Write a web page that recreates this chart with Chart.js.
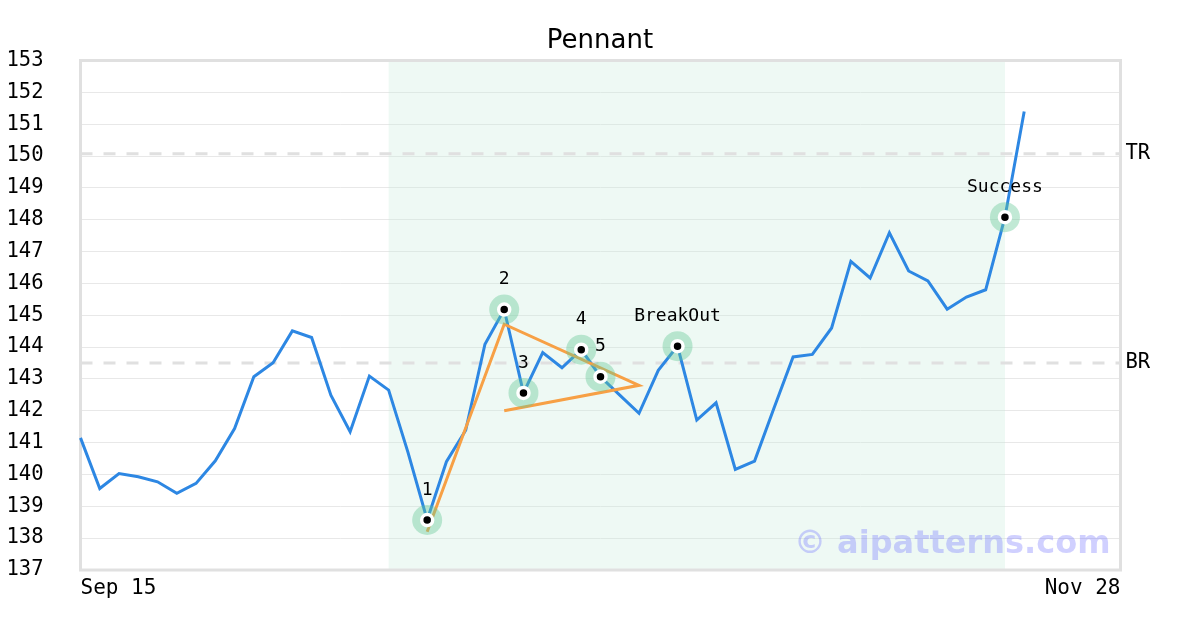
<!DOCTYPE html>
<html>
<head>
<meta charset="utf-8">
<title>Pennant</title>
<script src="https://cdn.jsdelivr.net/npm/chart.js@4.4.1/dist/chart.umd.min.js"></script>
<style>
  html, body { margin: 0; padding: 0; background: #fff; }
  #wrap { width: 1200px; height: 630px; }
</style>
</head>
<body>
<div id="wrap"><canvas id="chart" width="1200" height="630"></canvas></div>
<script>
// trading days on the x axis (only first and last are labelled)
const dates = [
  'Sep 15', 'Sep 16', 'Sep 17', 'Sep 18', 'Sep 19', 'Sep 22', 'Sep 23', 'Sep 24', 'Sep 25', 'Sep 26', 'Sep 29', 'Sep 30',
  'Oct 1', 'Oct 2', 'Oct 3', 'Oct 6', 'Oct 7', 'Oct 8', 'Oct 9', 'Oct 10', 'Oct 13', 'Oct 14', 'Oct 15', 'Oct 16',
  'Oct 17', 'Oct 20', 'Oct 21', 'Oct 22', 'Oct 23', 'Oct 24', 'Oct 27', 'Oct 28', 'Oct 29', 'Oct 30', 'Oct 31',
  'Nov 3', 'Nov 4', 'Nov 5', 'Nov 6', 'Nov 7', 'Nov 10', 'Nov 11', 'Nov 12', 'Nov 13', 'Nov 14', 'Nov 17', 'Nov 18',
  'Nov 19', 'Nov 20', 'Nov 21', 'Nov 24', 'Nov 25', 'Nov 26', 'Nov 27', 'Nov 28'
];

// closing prices
const prices = [
  141.15, 139.56, 140.03, 139.93, 139.77, 139.41, 139.72, 140.43, 141.44, 143.07,
  143.51, 144.51, 144.30, 142.49, 141.34, 143.09, 142.65, 140.70, 138.57, 140.40,
  141.39, 144.09, 145.18, 142.56, 143.83, 143.35, 143.92, 143.07, 142.49, 141.92,
  143.27, 144.03, 141.71, 142.25, 140.16, 140.42, 142.07, 143.69, 143.77, 144.60,
  146.69, 146.17, 147.59, 146.39, 146.08, 145.19, 145.57, 145.80, 148.08, 151.40
];

// pattern points
const markerIdx = [18, 22, 23, 26, 27, 31, 48];
const markerText = ['1', '2', '3', '4', '5', 'BreakOut', 'Success'];

// pennant outline
const pennantIdx = [18, 22, 29, 22];
const pennantVals = [138.2, 144.72, 142.8, 142.0];

// resistance levels
const topLevel = 150.07;
const bottomLevel = 143.5;

// pattern zone (index range)
const zoneStart = 16;
const zoneEnd = 48;

const last = dates.length - 1;
const markerPts = markerIdx.map(i => ({ x: dates[i], y: prices[i] }));
const pennantPts = pennantIdx.map((i, k) => ({ x: dates[i], y: pennantVals[k] }));

Chart.defaults.font.family = 'DejaVu Sans Mono';
Chart.defaults.color = '#000';

const overlay = {
  id: 'overlay',
  beforeDatasetsDraw(chart) {
    const { ctx, chartArea: a, scales: { x } } = chart;
    ctx.save();
    const x0 = x.getPixelForValue(zoneStart);
    const x1 = x.getPixelForValue(zoneEnd);
    ctx.fillStyle = 'rgba(200,235,220,0.3)';
    ctx.fillRect(x0, a.top, x1 - x0, a.bottom - a.top);
    ctx.strokeStyle = '#e0e0e0';
    ctx.lineWidth = 3;
    ctx.strokeRect(a.left, a.top, a.right - a.left, a.bottom - a.top);
    ctx.restore();
  },
  afterDatasetsDraw(chart) {
    const { ctx, chartArea: a, scales: { x, y } } = chart;
    ctx.save();
    // TR / BR labels
    ctx.font = '20.5px DejaVu Sans Mono';
    ctx.fillStyle = '#000';
    ctx.textAlign = 'left';
    ctx.textBaseline = 'middle';
    ctx.fillText('TR', a.right + 5, y.getPixelForValue(topLevel));
    ctx.fillText('BR', a.right + 5, y.getPixelForValue(bottomLevel));
    // point labels
    ctx.font = '18px DejaVu Sans Mono';
    ctx.textAlign = 'center';
    markerIdx.forEach((i, k) => {
      ctx.fillText(markerText[k], x.getPixelForValue(i), y.getPixelForValue(prices[i]) - 30);
    });
    // watermark
    ctx.font = 'bold 32px DejaVu Sans';
    ctx.fillStyle = 'rgba(100,100,255,0.3)';
    ctx.textAlign = 'right';
    ctx.textBaseline = 'alphabetic';
    ctx.fillText('\u00a9 aipatterns.com', a.right - 10, a.bottom - 17);
    ctx.restore();
  }
};

new Chart(document.getElementById('chart'), {
  type: 'line',
  data: {
    labels: dates,
    datasets: [
      {
        data: markerPts,
        showLine: false,
        pointRadius: 5.5,
        pointBackgroundColor: '#000',
        pointBorderColor: '#fff',
        pointBorderWidth: 3.5,
        order: 0
      },
      {
        data: markerPts,
        showLine: false,
        pointRadius: 15,
        pointBackgroundColor: 'rgba(100,200,150,0.4)',
        pointBorderWidth: 0,
        order: 1
      },
      {
        data: pennantPts,
        borderColor: '#f7a045',
        borderWidth: 3,
        pointRadius: 0,
        tension: 0,
        order: 2
      },
      {
        data: prices,
        borderColor: '#2d87e3',
        borderWidth: 3,
        pointRadius: 0,
        tension: 0,
        order: 3
      },
      {
        data: [{ x: dates[0], y: topLevel }, { x: dates[last], y: topLevel }],
        borderColor: '#e0e0e0',
        borderWidth: 3,
        borderDash: [12, 11],
        pointRadius: 0,
        order: 4
      },
      {
        data: [{ x: dates[0], y: bottomLevel }, { x: dates[last], y: bottomLevel }],
        borderColor: '#e0e0e0',
        borderWidth: 3,
        borderDash: [12, 11],
        pointRadius: 0,
        order: 4
      }
    ]
  },
  options: {
    responsive: false,
    animation: false,
    events: [],
    plugins: {
      legend: { display: false },
      tooltip: { enabled: false },
      title: {
        display: true,
        text: 'Pennant',
        color: '#000',
        font: { family: 'DejaVu Sans', size: 26, weight: 'normal' },
        padding: { top: 26, bottom: 3.3 }
      }
    },
    scales: {
      x: {
        offset: false,
        grid: { display: false, drawTicks: false },
        border: { display: false },
        ticks: {
          autoSkip: false,
          maxRotation: 0,
          align: 'inner',
          padding: 6,
          font: { size: 21 }
        },
        afterBuildTicks: (scale) => {
          scale.ticks = [scale.ticks[0], scale.ticks[scale.ticks.length - 1]];
        },
        afterFit: (scale) => { scale.height = 60; }
      },
      y: {
        min: 137,
        max: 153,
        grid: { color: '#e8e8e8', lineWidth: 1, drawTicks: false },
        border: { display: false },
        ticks: { stepSize: 1, padding: 37, font: { size: 20.5 } },
        afterFit: (scale) => { scale.width = 80.5; }
      },
      // empty right-hand axis keeps room for the TR / BR labels
      yRight: {
        position: 'right',
        grid: { display: false, drawTicks: false },
        border: { display: false },
        ticks: { display: false },
        afterFit: (scale) => { scale.width = 79.5; }
      }
    }
  },
  plugins: [overlay]
});
</script>
</body>
</html>
